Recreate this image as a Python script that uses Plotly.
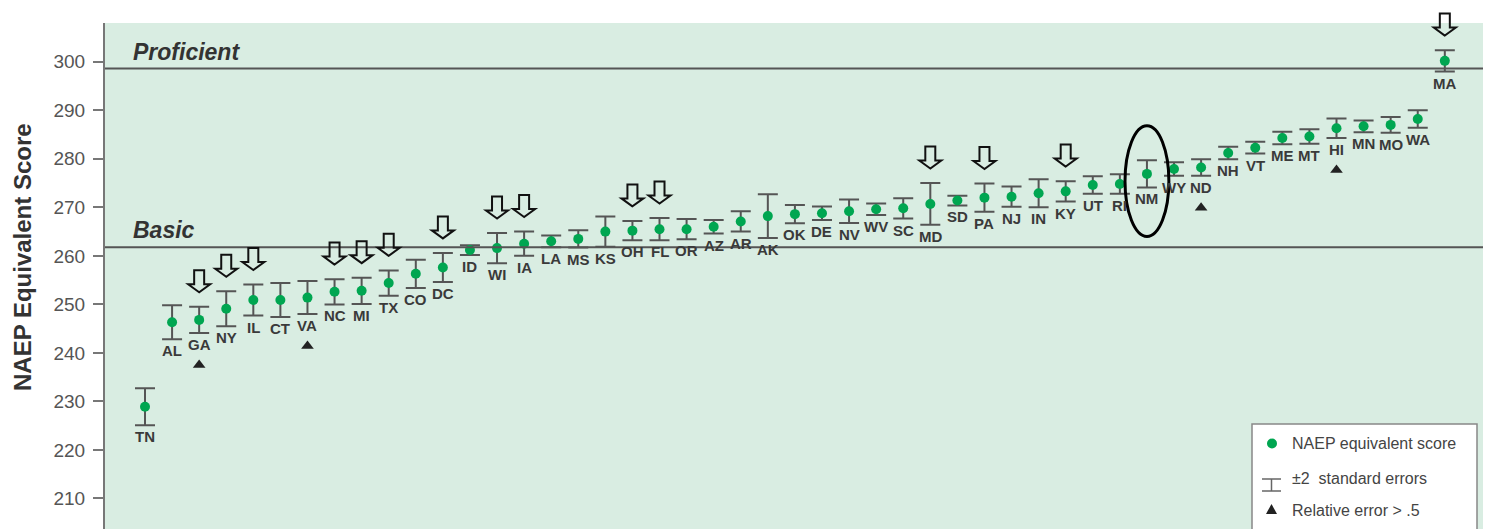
import plotly.graph_objects as go

# State NAEP-equivalent scores (grade 8 math), sorted low to high
states = ["TN", "AL", "GA", "NY", "IL", "CT", "VA", "NC", "MI", "TX", "CO", "DC",
          "ID", "WI", "IA", "LA", "MS", "KS", "OH", "FL", "OR", "AZ", "AR", "AK",
          "OK", "DE", "NV", "WV", "SC", "MD", "SD", "PA", "NJ", "IN", "KY", "UT",
          "RI", "NM", "WY", "ND", "NH", "VT", "ME", "MT", "HI", "MN", "MO", "WA", "MA"]
scores = [228.9, 246.3, 246.8, 249.1, 250.9, 250.9, 251.4, 252.6, 252.8, 254.4, 256.3, 257.6,
          261.2, 261.6, 262.5, 263.0, 263.5, 265.0, 265.2, 265.5, 265.5, 266.0, 267.1, 268.2,
          268.6, 268.8, 269.2, 269.6, 269.8, 270.7, 271.4, 272.0, 272.2, 272.9, 273.3, 274.6,
          274.8, 276.9, 277.9, 278.2, 281.2, 282.3, 284.3, 284.6, 286.3, 286.7, 287.0, 288.2, 300.2]
two_se = [3.8, 3.5, 2.7, 3.6, 3.2, 3.5, 3.4, 2.6, 2.7, 2.6, 2.9, 3.0,
          1.0, 3.1, 2.5, 1.2, 1.8, 3.1, 2.0, 2.3, 2.1, 1.4, 2.1, 4.5,
          1.9, 1.4, 2.4, 1.2, 2.1, 4.3, 1.0, 2.9, 2.1, 2.9, 2.1, 1.8,
          2.0, 2.8, 1.4, 1.7, 1.3, 1.2, 1.3, 1.5, 2.0, 1.2, 1.6, 1.8, 2.2]
high_rel_error = ["GA", "VA", "ND", "HI"]
arrow_states = ["GA", "NY", "IL", "NC", "MI", "TX", "DC", "WI", "IA", "OH", "FL",
                "MD", "PA", "KY", "MA"]
circled_state = "NM"
basic_cut = 261.8
proficient_cut = 298.6
y_ticks = [210, 220, 230, 240, 250, 260, 270, 280, 290, 300]
y_title = "NAEP Equivalent Score"

# Page geometry
W, H = 1487, 529
ML, MR, MT, MB = 105, 4, 23, 0
PW, PH = W - ML - MR, H - MT - MB
X_RANGE = [-1.477, 49.41]
Y_RANGE = [203.7, 308.0]

SANS = "Liberation Sans, Arial, Helvetica, sans-serif"
GREEN = "#00a651"
GRAY = "#555555"
BG = "#d9ede2"

xs = list(range(len(states)))
lows = [s - e for s, e in zip(scores, two_se)]
highs = [s + e for s, e in zip(scores, two_se)]
pos = {st: i for i, st in enumerate(states)}


def to_paper(x, y):
    return ((x - X_RANGE[0]) / (X_RANGE[1] - X_RANGE[0]),
            (y - Y_RANGE[0]) / (Y_RANGE[1] - Y_RANGE[0]))


def px_paper(xpx, ypx):
    return (xpx - ML) / PW, (H - MB - ypx) / PH


fig = go.Figure()

fig.add_trace(go.Scatter(
    x=xs, y=scores, mode="markers",
    marker=dict(color=GREEN, size=10),
    error_y=dict(type="data", array=two_se, visible=True,
                 color=GRAY, thickness=2, width=10),
    hoverinfo="skip", showlegend=False,
))

# triangles for relative error > .5
tri_x = [pos[s] for s in high_rel_error]
fig.add_trace(go.Scatter(
    x=tri_x, y=[lows[i] - 6.6 for i in tri_x], mode="markers",
    marker=dict(symbol="triangle-up", color="#222222", size=11),
    hoverinfo="skip", showlegend=False,
))

shapes = []
annotations = []

# benchmark lines
for cut in (basic_cut, proficient_cut):
    shapes.append(dict(type="line", xref="paper", yref="y", x0=0, x1=1, y0=cut, y1=cut,
                       line=dict(color=GRAY, width=2)))
for txt, cut in (("Proficient", proficient_cut), ("Basic", basic_cut)):
    annotations.append(dict(text="<b><i>%s</i></b>" % txt, xref="paper", yref="y",
                            x=px_paper(131, 0)[0], y=cut + 3.5, xanchor="left",
                            yanchor="middle", showarrow=False,
                            font=dict(family=SANS, size=23, color="#333333")))

# vertical axis title
tx, ty = px_paper(22, 257)
annotations.append(dict(text="<b>%s</b>" % y_title, xref="paper", yref="paper", x=tx, y=ty,
                        xanchor="center", yanchor="middle", textangle=-90, showarrow=False,
                        font=dict(family=SANS, size=24, color="#333333")))

# state labels under each error bar
for i, st in enumerate(states):
    annotations.append(dict(text="<b>%s</b>" % st, x=i, y=lows[i], xref="x", yref="y",
                            xanchor="center", yanchor="top", showarrow=False, yshift=-1,
                            font=dict(family=SANS, size=15, color="#3a3a3a")))

# hollow down arrows over selected states
kx, ky = 1.0 / PW, 1.0 / PH
arrow_pts = [(0, 0), (-11, 8), (-5, 8), (-5, 22), (5, 22), (5, 8), (11, 8)]
for st in arrow_states:
    i = pos[st]
    cx, cy = to_paper(i, highs[i] + 3.0)
    path = "M " + " L ".join("%.5f,%.5f" % (cx + dx * kx, cy + dy * ky) for dx, dy in arrow_pts) + " Z"
    shapes.append(dict(type="path", xref="paper", yref="paper", path=path,
                       line=dict(color="#111111", width=2), fillcolor="rgba(0,0,0,0)"))

# ellipse around the highlighted state
ni = pos[circled_state]
shapes.append(dict(type="circle", xref="x", yref="y",
                   x0=ni - 0.81, x1=ni + 0.81,
                   y0=scores[ni] - 12.9, y1=scores[ni] + 9.9,
                   line=dict(color="#000000", width=3)))

# key box
bx0, by0 = px_paper(1252, 424)
bx1, _ = px_paper(1477, 0)
shapes.append(dict(type="rect", xref="paper", yref="paper", x0=bx0, x1=bx1, y0=-0.02, y1=by0,
                   line=dict(color="#888888", width=1.5), fillcolor="white"))
dx0, dy0 = px_paper(1267, 438.5)
dx1, dy1 = px_paper(1277, 448.5)
shapes.append(dict(type="circle", xref="paper", yref="paper", x0=dx0, x1=dx1, y0=dy1, y1=dy0,
                   line=dict(width=0), fillcolor=GREEN))
for (a, b, c, d) in [(1271.5, 479, 1271.5, 491), (1262, 479, 1281, 479), (1262, 491, 1281, 491)]:
    p0, p1 = px_paper(a, b), px_paper(c, d)
    shapes.append(dict(type="line", xref="paper", yref="paper", x0=p0[0], y0=p0[1],
                       x1=p1[0], y1=p1[1], line=dict(color="#666666", width=1.5)))
t1, t2, t3 = px_paper(1271.5, 504), px_paper(1266, 514), px_paper(1277, 514)
shapes.append(dict(type="path", xref="paper", yref="paper",
                   path="M %f,%f L %f,%f L %f,%f Z" % (t1[0], t1[1], t2[0], t2[1], t3[0], t3[1]),
                   line=dict(width=0), fillcolor="#222222"))
for txt, ypx in [("NAEP equivalent score", 443), ("±2  standard errors", 478),
                 ("Relative error > .5", 510)]:
    lx, ly = px_paper(1290, ypx)
    annotations.append(dict(text=txt, xref="paper", yref="paper", x=lx, y=ly,
                            xanchor="left", yanchor="middle", showarrow=False,
                            font=dict(family=SANS, size=16, color="#444444")))

fig.update_layout(
    width=W, height=H,
    margin=dict(l=ML, r=MR, t=MT, b=MB),
    paper_bgcolor="white", plot_bgcolor=BG,
    xaxis=dict(range=X_RANGE, visible=False, fixedrange=True),
    yaxis=dict(range=Y_RANGE, tickvals=y_ticks, ticks="outside", ticklen=10,
               tickwidth=1.5, tickcolor="#777777", showline=True, linecolor="#777777",
               linewidth=2, showgrid=False, zeroline=False, ticklabelstandoff=4,
               tickfont=dict(family=SANS, size=19, color="#555555")),
    shapes=shapes, annotations=annotations,
)

fig.write_html("out.html")
